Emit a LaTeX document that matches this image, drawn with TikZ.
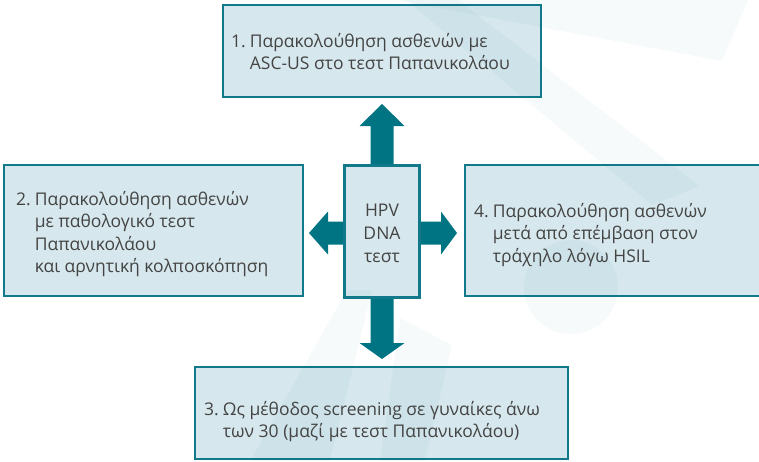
\documentclass[tikz,border=0pt]{standalone}
\usepackage{fontspec}
\setmainfont{Open Sans}
\definecolor{boxline}{HTML}{11798A}
\definecolor{boxfill}{HTML}{D6E8ED}
\definecolor{arrowfill}{HTML}{007483}
\definecolor{txt}{HTML}{444444}
\definecolor{mark}{HTML}{0A6F80}
\tikzset{
  box/.style={draw=boxline, line width=2pt, fill=boxfill, inner sep=0pt},
  lbl/.style={text=txt, inner sep=0pt, anchor=base west,
    font=\fontsize{17.5}{22.5}\selectfont},
  centerlbl/.style={text=txt, inner sep=0pt, align=center,
    font=\fontsize{17.5}{23}\selectfont},
  arrowbody/.style={fill=arrowfill},
  watermark/.style={fill=mark, fill opacity=0.035}
}
% numbered entry: number, then a left-aligned block of lines
\newcommand{\numitem}[2]{\begin{tabular}[t]{@{}l@{\hspace{4pt}}l@{}}#1&%
  \begin{tabular}[t]{@{}l@{}}#2\end{tabular}\end{tabular}}
\begin{document}
\begin{tikzpicture}[x=1pt,y=-1pt]
\useasboundingbox (0,0) rectangle (759,461);

% boxes
\node[box, minimum width=318pt, minimum height=92pt] (b1) at (382,51) {};
\node[box, minimum width=299pt, minimum height=131pt] (b2) at (153,230.5) {};
\node[box, minimum width=300pt, minimum height=131pt] (b4) at (615,230.5) {};
\node[box, minimum width=373pt, minimum height=92pt] (b3) at (381.5,413) {};
\node[box, minimum width=74pt, minimum height=131pt] (hpv) at (382,231.5) {};

% faint logo shapes in the background
\fill[watermark] (396,0) -- (748,0) -- (722,61) -- cycle;
\fill[watermark] (406,0) -- (458,0) -- (700,186) -- (652,205) -- cycle;
\fill[watermark] (571,287) circle (47);
\fill[watermark] (347,290) -- (372,290) -- (330,461) -- (250,461) -- cycle;
\fill[watermark] (400,318) -- (452,345) -- (425,461) -- (380,461) -- cycle;

% block arrows leaving the central test box
\fill[arrowbody] ([shift={(-11.5,0)}]hpv.north) -- ++(0,-39) -- ++(-11,0)
  -- ++(22.5,-22) -- ++(22.5,22) -- ++(-11,0) -- ++(0,39) -- cycle;
\fill[arrowbody] ([shift={(-11.5,0)}]hpv.south) -- ++(0,45) -- ++(-11,0)
  -- ++(22.5,16) -- ++(22.5,-16) -- ++(-11,0) -- ++(0,-45) -- cycle;
\fill[arrowbody] ([shift={(0,-10)}]hpv.west) -- ++(-16,0) -- ++(0,-10)
  -- ++(-19,21.5) -- ++(19,21.5) -- ++(0,-10) -- ++(16,0) -- cycle;
\fill[arrowbody] ([shift={(0,-10)}]hpv.east) -- ++(21,0) -- ++(0,-10)
  -- ++(16,21.5) -- ++(-16,21.5) -- ++(0,-10) -- ++(-21,0) -- cycle;
\draw[boxline, line width=2pt] (hpv.north west) rectangle (hpv.south east);

% texts
\node[lbl] (t1) at (231,47) {\numitem{1.}{Παρακολούθηση ασθενών με\\ASC-US στο τεστ Παπανικολάου}};
\node[lbl] (t2) at (16,205) {\numitem{2.}{Παρακολούθηση ασθενών\\με παθολογικό τεστ\\Παπανικολάου\\και αρνητική κολποσκόπηση}};
\node[lbl] (t4) at (474,217) {\numitem{4.}{Παρακολούθηση ασθενών\\μετά από επέμβαση στον\\τράχηλο λόγω HSIL}};
\node[lbl] (t3) at (204,415) {\numitem{3.}{Ως μέθοδος screening σε γυναίκες άνω\\των 30 (μαζί με τεστ Παπανικολάου)}};
\node[centerlbl] (th) at ([yshift=-2pt]hpv.center) {HPV\\DNA\\τεστ};
\end{tikzpicture}
\end{document}
